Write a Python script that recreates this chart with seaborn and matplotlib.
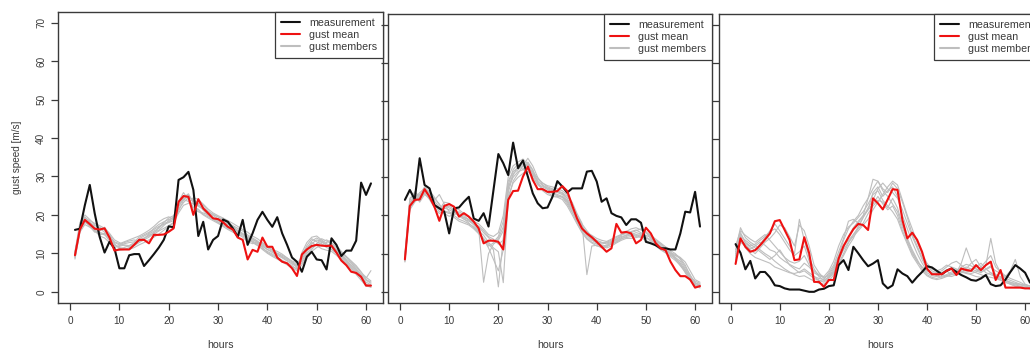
import numpy as np
import pandas as pd
import matplotlib
matplotlib.use("Agg")
import matplotlib.pyplot as plt
from matplotlib.lines import Line2D
import seaborn as sns

# ---------------------------------------------------------------- data
hours = list(range(1, 62))
x_ticks = [0, 10, 20, 30, 40, 50, 60]
y_ticks = [0, 10, 20, 30, 40, 50, 60, 70]
legend_labels = ["measurement", "gust mean", "gust members"]

# station 1
obs_1 = [16.1, 16.4, 22.5, 27.8, 20.4, 14.3, 10.2, 13.0, 11.3, 6.1,
         6.1, 9.5, 9.8, 9.8, 6.7, 8.2, 9.8, 11.5, 13.5, 17.0,
         16.8, 29.1, 29.8, 31.2, 26.5, 14.5, 18.2, 11.0, 13.5, 14.5,
         18.8, 18.2, 16.5, 14.3, 18.7, 12.2, 15.2, 18.7, 20.8, 18.7,
         16.9, 19.4, 15.2, 12.2, 8.9, 7.8, 5.2, 9.1, 10.4, 8.4,
         8.2, 5.8, 13.9, 12.2, 9.3, 10.7, 10.7, 13.3, 28.4, 25.2, 28.2]
mean_1 = [9.5, 16.2, 18.7, 17.6, 16.4, 16.2, 16.5, 14.1, 10.7, 11.0,
          11.0, 11.0, 12.2, 13.5, 13.5, 12.6, 14.8, 14.8, 14.9, 15.6,
          16.5, 23.4, 24.9, 24.7, 20.0, 24.1, 21.7, 20.4, 19.1, 18.9,
          18.1, 16.9, 16.2, 14.1, 13.5, 8.4, 10.9, 10.4, 14.1, 11.7,
          11.7, 8.9, 7.8, 7.4, 6.1, 4.1, 9.7, 11.0, 11.9, 12.2,
          12.0, 11.9, 12.0, 10.2, 8.1, 6.9, 5.2, 4.9, 3.9, 1.6, 1.6]
members_1 = [
    [10.0, 17.5, 19.5, 18.2, 16.8, 15.5, 15.0, 13.2, 11.5, 12.0,
     12.5, 12.8, 13.0, 14.2, 14.8, 15.5, 16.2, 17.0, 17.5, 18.0,
     18.5, 22.0, 24.5, 25.5, 23.0, 22.5, 21.8, 20.5, 19.8, 19.0,
     18.2, 17.5, 16.8, 15.5, 15.0, 14.2, 13.5, 13.0, 12.2, 11.5,
     10.8, 10.0, 9.2, 8.5, 7.8, 7.0, 8.5, 10.5, 12.5, 13.5,
     13.0, 12.2, 11.5, 10.5, 9.2, 8.0, 6.8, 5.5, 4.2, 3.0, 2.2],
    [9.0, 16.0, 18.5, 17.0, 15.5, 15.8, 16.8, 15.0, 12.5, 11.2,
     11.5, 12.0, 12.8, 13.5, 14.0, 14.5, 15.5, 16.0, 17.2, 18.5,
     19.5, 23.5, 25.8, 24.0, 22.0, 21.5, 20.2, 19.5, 18.8, 18.0,
     17.5, 16.5, 15.8, 15.0, 14.2, 13.0, 12.5, 12.8, 11.5, 10.2,
     9.5, 8.8, 8.0, 7.2, 6.5, 6.0, 9.0, 11.5, 12.8, 12.0,
     11.2, 10.8, 10.5, 9.5, 8.2, 7.5, 6.2, 4.8, 3.5, 2.0, 1.5],
    [10.5, 18.0, 20.0, 18.8, 17.5, 16.5, 15.5, 14.0, 12.0, 11.8,
     12.2, 12.0, 12.5, 13.2, 13.8, 14.8, 15.0, 15.8, 16.5, 17.2,
     18.0, 21.5, 23.2, 24.5, 24.0, 23.0, 22.5, 21.0, 20.0, 19.5,
     18.8, 18.0, 17.2, 16.5, 15.8, 14.8, 14.0, 13.2, 12.0, 11.0,
     10.2, 9.5, 8.8, 8.0, 7.2, 6.5, 7.5, 9.5, 11.0, 12.5,
     13.8, 13.2, 12.5, 11.0, 9.8, 8.5, 7.5, 6.0, 4.5, 3.5, 5.5],
    [8.5, 15.5, 17.5, 16.8, 16.0, 14.5, 14.0, 12.8, 11.0, 10.8,
     11.0, 11.5, 12.0, 12.8, 13.5, 14.2, 15.2, 16.8, 18.0, 19.2,
     19.8, 22.5, 24.0, 23.5, 22.8, 21.0, 20.0, 19.2, 18.5, 17.8,
     17.0, 16.2, 15.5, 14.8, 14.5, 13.8, 12.8, 12.0, 11.2, 10.5,
     9.8, 9.0, 8.2, 7.5, 6.8, 5.8, 10.2, 12.8, 14.2, 14.5,
     13.5, 12.5, 11.8, 10.8, 9.5, 8.2, 7.0, 5.8, 4.0, 2.5, 1.8],
    [9.8, 17.0, 19.0, 18.0, 17.2, 16.8, 16.0, 14.5, 13.0, 12.5,
     13.0, 13.5, 14.0, 14.5, 15.2, 16.0, 17.0, 18.2, 19.0, 19.5,
     18.8, 21.0, 23.8, 25.2, 23.5, 22.2, 21.5, 20.8, 20.2, 19.5,
     18.5, 17.8, 17.0, 16.0, 15.2, 14.0, 13.2, 12.5, 11.8, 11.0,
     10.5, 9.8, 9.0, 8.2, 7.5, 6.8, 8.0, 10.0, 11.5, 12.2,
     12.8, 13.5, 12.8, 11.5, 10.2, 9.0, 7.8, 6.5, 5.0, 3.8, 2.8],
    [9.2, 16.5, 18.0, 17.5, 16.2, 15.2, 14.8, 13.8, 12.2, 11.5,
     11.2, 11.0, 11.5, 12.2, 12.8, 13.5, 14.2, 15.0, 16.0, 17.0,
     18.0, 20.5, 22.5, 23.0, 24.5, 24.0, 22.8, 21.5, 20.5, 19.8,
     19.2, 18.5, 17.8, 17.0, 16.2, 15.5, 14.5, 13.8, 12.8, 11.8,
     10.8, 10.0, 9.5, 8.8, 8.0, 7.5, 8.8, 11.0, 13.2, 14.0,
     13.2, 12.0, 11.0, 10.0, 9.0, 7.8, 6.5, 5.2, 3.8, 1.8, 1.2],
    [10.2, 16.8, 19.2, 18.5, 17.8, 17.2, 16.5, 15.2, 13.5, 12.8,
     12.0, 11.8, 12.2, 13.8, 14.5, 15.2, 16.5, 17.5, 18.2, 18.8,
     19.2, 22.8, 25.0, 24.2, 21.5, 20.8, 20.5, 20.0, 19.2, 18.5,
     17.8, 17.0, 16.5, 15.8, 15.0, 14.5, 13.8, 12.8, 12.5, 11.8,
     11.0, 10.5, 9.8, 8.8, 7.8, 6.2, 9.5, 12.0, 13.8, 13.0,
     12.5, 11.5, 11.0, 10.2, 8.8, 7.2, 6.0, 4.5, 3.0, 1.5, 1.2],
    [8.8, 15.8, 18.2, 17.2, 15.8, 14.8, 15.2, 14.2, 12.8, 12.2,
     12.8, 13.2, 13.5, 13.0, 13.8, 15.0, 15.8, 16.5, 17.8, 18.2,
     19.0, 22.2, 24.2, 24.8, 23.8, 22.8, 21.2, 19.8, 19.0, 18.2,
     17.2, 16.8, 16.0, 15.2, 14.8, 13.5, 13.0, 12.2, 11.0, 10.0,
     9.2, 8.5, 7.8, 7.0, 6.2, 5.5, 7.0, 9.0, 10.5, 11.5,
     12.2, 12.8, 13.5, 12.0, 10.5, 9.2, 8.0, 6.8, 5.2, 3.2, 2.5],
]

# station 2
obs_2 = [24.1, 26.7, 24.2, 35.0, 28.0, 27.1, 22.7, 21.9, 21.0, 15.3,
         21.9, 22.1, 23.6, 24.9, 19.2, 18.6, 20.6, 17.1, 26.6, 36.1,
         33.7, 30.6, 39.1, 32.4, 34.4, 30.2, 25.8, 23.2, 21.9, 22.1,
         24.9, 29.0, 27.6, 26.0, 27.1, 27.1, 27.1, 31.5, 31.7, 28.9,
         23.6, 24.5, 20.6, 19.9, 19.5, 17.5, 19.0, 19.0, 18.1, 13.1,
         12.7, 12.2, 11.4, 11.4, 11.1, 11.1, 15.3, 21.0, 20.8, 26.2, 17.1]
mean_2 = [8.5, 22.5, 24.1, 24.2, 26.9, 24.9, 22.3, 18.6, 22.5, 23.0,
          22.3, 19.7, 20.6, 19.7, 18.4, 16.6, 12.7, 13.4, 13.4, 13.1,
          11.1, 24.1, 26.4, 26.5, 30.2, 32.8, 29.3, 26.9, 26.9, 26.2,
          26.2, 26.4, 27.7, 26.4, 22.7, 19.2, 16.6, 15.3, 14.3, 13.1,
          11.8, 10.5, 11.4, 17.8, 15.5, 15.7, 15.3, 12.7, 13.6, 16.8,
          15.3, 12.7, 11.4, 10.9, 7.9, 5.7, 4.1, 4.1, 3.2, 1.1, 1.5]
members_2 = [
    [9.0, 23.5, 25.0, 25.5, 27.5, 26.0, 23.0, 21.0, 22.0, 21.5,
     20.8, 20.0, 19.5, 19.0, 18.2, 17.0, 15.5, 14.2, 13.0, 14.5,
     18.5, 29.0, 31.5, 32.5, 33.5, 33.0, 31.0, 29.0, 27.8, 27.0,
     26.5, 26.0, 25.5, 24.0, 21.5, 19.0, 17.0, 15.5, 14.8, 14.0,
     13.5, 13.2, 13.8, 14.5, 15.0, 15.5, 15.8, 16.2, 15.5, 14.5,
     13.2, 12.0, 11.0, 10.2, 9.5, 8.8, 7.5, 5.5, 3.5, 2.2, 1.8],
    [8.0, 22.0, 24.8, 24.0, 26.0, 25.2, 24.5, 23.0, 21.0, 20.5,
     21.0, 19.8, 19.0, 18.5, 17.8, 16.5, 2.5, 10.0, 12.5, 13.5,
     16.0, 27.5, 30.0, 31.5, 32.0, 34.0, 32.0, 28.5, 27.0, 26.0,
     25.2, 25.0, 24.8, 23.0, 20.8, 18.5, 16.2, 14.8, 13.5, 12.8,
     12.5, 12.8, 13.2, 13.8, 14.5, 14.8, 15.2, 14.8, 14.2, 13.5,
     12.8, 12.2, 11.5, 10.8, 10.0, 9.5, 8.8, 7.0, 4.2, 2.5, 1.5],
    [9.5, 24.0, 26.2, 25.0, 25.8, 24.2, 22.0, 20.5, 21.8, 22.5,
     21.5, 20.5, 19.2, 18.0, 16.8, 15.5, 14.0, 12.5, 11.0, 1.3,
     14.0, 26.0, 30.5, 33.0, 34.5, 32.5, 30.0, 28.2, 27.5, 26.8,
     26.0, 25.5, 25.0, 23.5, 21.0, 18.0, 15.8, 14.2, 13.0, 12.5,
     12.0, 12.2, 12.8, 13.5, 14.2, 14.8, 15.5, 16.0, 16.5, 15.8,
     14.5, 13.5, 12.5, 11.5, 10.5, 9.0, 7.2, 5.0, 3.0, 1.8, 1.2],
    [8.5, 21.5, 23.5, 24.8, 26.5, 25.5, 23.8, 22.2, 20.5, 19.8,
     20.2, 21.0, 20.0, 18.8, 17.5, 16.0, 14.8, 13.0, 11.5, 10.5,
     2.4, 24.0, 29.0, 31.0, 33.0, 35.0, 33.0, 30.0, 28.0, 27.2,
     26.8, 26.2, 25.8, 24.5, 22.0, 19.5, 17.5, 15.0, 14.0, 13.2,
     12.8, 13.0, 13.5, 14.2, 15.0, 15.2, 14.8, 14.5, 15.0, 15.5,
     14.0, 12.8, 11.8, 11.0, 10.2, 9.8, 9.0, 7.8, 5.5, 3.2, 2.5],
    [9.2, 23.0, 24.5, 26.0, 27.0, 25.8, 24.0, 25.5, 23.0, 21.0,
     20.0, 19.0, 18.5, 17.8, 17.0, 15.8, 13.5, 12.0, 12.8, 14.0,
     17.0, 28.0, 32.0, 33.5, 32.0, 31.5, 30.5, 29.5, 28.5, 27.5,
     27.0, 26.5, 26.0, 25.0, 23.5, 20.5, 18.0, 4.5, 12.0, 12.2,
     11.5, 11.8, 12.5, 13.0, 13.8, 14.5, 15.0, 15.5, 15.2, 14.8,
     14.2, 13.0, 12.0, 10.8, 9.8, 9.0, 8.0, 6.0, 4.0, 2.8, 2.2],
    [7.8, 22.8, 25.5, 23.5, 25.5, 24.5, 23.2, 21.8, 22.8, 22.0,
     21.2, 20.2, 19.5, 18.8, 18.0, 17.2, 16.0, 14.5, 13.8, 12.5,
     13.5, 25.0, 28.5, 30.0, 31.0, 32.2, 31.5, 29.8, 28.5, 27.8,
     27.5, 27.0, 26.5, 25.5, 22.5, 20.0, 17.8, 16.0, 14.5, 13.5,
     13.0, 12.5, 13.0, 13.8, 14.8, 15.8, 16.5, 16.8, 16.2, 15.5,
     14.8, 13.8, 12.8, 11.8, 10.8, 10.0, 8.5, 6.5, 4.5, 2.0, 1.0],
    [8.8, 21.8, 24.0, 25.2, 26.2, 26.5, 24.8, 22.8, 21.2, 20.8,
     19.5, 18.5, 18.0, 17.5, 16.5, 15.2, 13.8, 11.5, 8.5, 5.5,
     11.0, 27.0, 31.0, 32.0, 33.0, 33.5, 31.8, 28.8, 26.5, 25.5,
     25.0, 24.8, 24.2, 22.5, 20.2, 17.8, 15.5, 13.8, 12.8, 12.0,
     11.8, 12.0, 12.5, 13.2, 14.0, 14.2, 14.5, 15.0, 14.8, 14.2,
     13.5, 12.5, 11.2, 10.5, 9.2, 8.2, 7.0, 5.8, 3.8, 2.2, 2.0],
    [9.8, 24.5, 25.8, 24.5, 27.2, 25.0, 22.8, 21.5, 23.5, 23.2,
     22.0, 21.5, 20.5, 19.5, 18.5, 17.8, 16.5, 15.0, 14.5, 15.5,
     20.0, 30.0, 33.0, 34.0, 34.8, 33.5, 30.8, 28.0, 27.0, 26.2,
     25.8, 25.2, 24.8, 23.8, 21.8, 19.2, 16.8, 15.2, 13.8, 12.8,
     12.2, 11.5, 12.0, 12.8, 13.5, 14.0, 14.0, 14.2, 14.5, 14.0,
     13.8, 13.2, 12.5, 11.2, 10.0, 8.5, 6.8, 5.2, 3.2, 1.5, 1.8],
]

# station 3
obs_3 = [12.5, 10.2, 5.9, 8.1, 3.5, 5.2, 5.2, 3.8, 1.7, 1.5,
         0.9, 0.6, 0.6, 0.6, 0.3, 0.0, 0.0, 0.6, 0.8, 1.5,
         1.7, 7.0, 8.3, 5.7, 11.8, 10.1, 8.3, 6.7, 7.4, 8.3,
         2.2, 0.9, 1.7, 5.9, 4.8, 4.1, 2.4, 3.9, 5.2, 6.7,
         6.4, 5.5, 4.6, 5.5, 6.1, 5.2, 4.4, 3.8, 3.1, 2.9,
         3.5, 4.4, 2.0, 1.5, 1.7, 3.2, 5.2, 7.0, 6.1, 5.0, 2.4]
mean_3 = [7.3, 14.0, 11.8, 10.5, 10.9, 12.2, 13.7, 15.3, 18.5, 18.8,
          16.2, 13.6, 8.3, 8.5, 14.3, 10.1, 2.6, 2.6, 1.3, 3.1,
          3.1, 8.7, 12.0, 14.3, 16.4, 17.8, 17.5, 16.2, 24.5, 23.2,
          21.6, 24.2, 26.9, 26.7, 18.8, 14.0, 15.5, 13.6, 10.5, 6.1,
          4.6, 4.6, 4.6, 5.5, 6.1, 4.4, 6.1, 5.7, 5.5, 7.0,
          5.7, 7.0, 7.9, 3.1, 5.7, 1.1, 1.1, 1.1, 1.1, 0.9, 0.9]
members_3 = [
    [9.0, 15.5, 13.0, 12.0, 12.5, 13.5, 14.5, 15.8, 16.5, 15.0,
     13.0, 11.0, 9.5, 10.5, 12.0, 8.0, 4.0, 3.0, 2.5, 3.5,
     5.0, 8.0, 11.5, 14.5, 16.8, 18.5, 20.0, 21.5, 26.0, 27.5,
     25.0, 26.5, 27.5, 25.0, 20.0, 16.5, 13.0, 10.0, 7.5, 5.5,
     4.8, 4.5, 5.0, 5.8, 6.2, 5.5, 6.0, 6.5, 6.0, 5.5,
     5.0, 6.0, 6.8, 4.5, 4.0, 3.0, 2.2, 1.8, 1.5, 1.2, 1.0],
    [11.0, 16.8, 14.2, 13.0, 12.2, 11.0, 10.0, 9.2, 8.0, 7.0,
     6.0, 5.2, 4.5, 4.0, 4.2, 3.5, 2.8, 2.2, 2.0, 2.8,
     4.5, 7.5, 10.0, 12.8, 15.0, 16.5, 18.0, 20.5, 22.5, 24.0,
     23.5, 22.0, 24.5, 22.0, 17.5, 14.0, 11.0, 8.5, 6.0, 4.5,
     3.8, 3.5, 4.0, 4.5, 5.2, 5.8, 5.2, 4.8, 4.5, 4.0,
     3.8, 4.5, 5.0, 3.8, 3.2, 2.5, 2.0, 1.5, 1.2, 1.0, 0.8],
    [8.2, 13.0, 12.0, 11.0, 10.0, 11.5, 13.0, 14.0, 15.5, 17.5,
     16.8, 14.5, 12.0, 17.5, 16.0, 12.0, 7.0, 5.0, 3.5, 4.5,
     6.5, 9.5, 13.5, 16.5, 18.5, 20.0, 22.5, 24.5, 29.5, 29.0,
     26.5, 25.0, 23.0, 21.0, 17.0, 13.5, 10.5, 8.0, 6.5, 5.0,
     4.2, 4.0, 4.8, 5.5, 4.5, 5.0, 7.5, 11.5, 8.0, 6.0,
     5.5, 7.0, 14.0, 7.5, 5.0, 3.5, 3.0, 2.5, 2.0, 1.5, 1.2],
    [10.5, 14.5, 13.5, 12.5, 11.5, 10.5, 9.5, 8.5, 9.5, 11.0,
     9.0, 7.0, 6.0, 5.0, 5.5, 4.5, 3.5, 3.0, 2.8, 4.0,
     6.0, 9.0, 12.0, 13.5, 15.0, 17.0, 19.5, 22.0, 24.0, 27.0,
     28.5, 27.0, 26.0, 24.5, 21.5, 18.0, 14.5, 11.5, 8.5, 6.0,
     5.0, 4.2, 3.8, 4.2, 4.8, 5.5, 6.5, 7.2, 6.8, 6.0,
     5.2, 5.8, 6.5, 5.5, 4.8, 4.0, 5.5, 8.5, 4.0, 2.0, 1.5],
    [12.0, 16.0, 14.8, 13.8, 13.0, 14.0, 15.0, 13.5, 12.0, 10.5,
     9.0, 8.0, 7.5, 8.0, 9.5, 7.0, 5.5, 4.5, 4.0, 5.5,
     8.0, 12.0, 15.0, 17.0, 18.0, 19.5, 21.0, 23.0, 25.5, 26.5,
     24.0, 22.5, 21.0, 19.0, 15.5, 12.5, 9.5, 7.5, 5.5, 4.2,
     3.5, 3.2, 3.5, 4.0, 4.5, 4.8, 5.0, 5.2, 5.5, 6.5,
     7.5, 6.0, 5.0, 4.2, 3.8, 3.0, 2.5, 2.0, 1.8, 1.5, 1.0],
    [9.5, 14.0, 11.5, 10.0, 9.0, 8.5, 8.0, 7.5, 6.5, 6.0,
     5.5, 5.0, 4.8, 5.2, 6.0, 5.0, 4.0, 3.5, 3.2, 5.0,
     7.0, 10.5, 14.0, 18.5, 19.0, 18.0, 20.0, 24.5, 27.0, 29.0,
     27.0, 26.0, 28.5, 27.0, 23.5, 19.5, 15.0, 12.0, 9.0, 7.0,
     5.5, 5.0, 5.5, 6.5, 7.5, 8.0, 7.0, 6.0, 5.5, 5.0,
     4.5, 4.0, 3.8, 3.5, 3.0, 2.5, 2.0, 1.5, 1.2, 1.0, 0.8],
    [10.0, 15.2, 12.8, 11.8, 10.8, 12.5, 14.2, 16.0, 17.8, 16.0,
     14.0, 12.0, 10.0, 19.0, 13.5, 9.0, 6.0, 4.0, 3.0, 3.8,
     5.5, 8.5, 11.0, 13.0, 14.5, 16.0, 17.5, 19.0, 21.5, 23.5,
     25.5, 27.5, 29.0, 28.0, 24.0, 20.0, 16.5, 13.0, 10.0, 7.5,
     6.0, 5.5, 6.0, 7.0, 6.5, 6.0, 5.5, 5.0, 4.8, 5.2,
     6.5, 8.0, 9.5, 6.5, 5.2, 4.2, 3.5, 3.0, 2.5, 1.8, 1.5],
    [8.5, 13.5, 12.5, 11.2, 12.0, 13.0, 12.2, 11.0, 10.5, 9.0,
     8.0, 7.2, 6.5, 6.0, 7.5, 6.5, 5.0, 4.2, 3.8, 4.2,
     5.0, 7.0, 9.5, 12.0, 14.0, 17.0, 19.5, 21.5, 23.0, 25.0,
     23.0, 21.5, 22.5, 20.0, 16.0, 13.0, 10.0, 8.0, 6.5, 5.5,
     5.0, 4.8, 4.5, 4.2, 4.0, 4.5, 5.2, 6.0, 7.5, 8.5,
     6.5, 5.0, 4.5, 4.0, 3.5, 3.0, 2.5, 2.2, 2.0, 1.8, 1.5],
]

stations = [
    (obs_1, mean_1, members_1),
    (obs_2, mean_2, members_2),
    (obs_3, mean_3, members_3),
]

# ---------------------------------------------------------------- style
sns.set_style("ticks")
TEXT = "#3a3a3a"
EDGE = "#3a3a3a"
plt.rcParams["font.family"] = ["Liberation Sans", "DejaVu Sans"]
plt.rcParams.update({
    "axes.edgecolor": EDGE,
    "axes.linewidth": 1.0,
    "xtick.color": EDGE,
    "ytick.color": EDGE,
    "xtick.labelcolor": TEXT,
    "ytick.labelcolor": TEXT,
    "axes.labelcolor": TEXT,
})

C_OBS = "#111111"
C_MEAN = "#ee1111"
C_MEM = "#bebebe"

W, H = 1030, 349
fig = plt.figure(figsize=(W / 100, H / 100), dpi=100)

# panel frames in pixels: (left, right, top, bottom)
frames = [
    (58.0, 383.0, 12.0, 302.5),
    (388.0, 712.0, 14.0, 302.5),
    (718.7, 1042.0, 14.0, 302.5),
]

for i, ((obs, mean, members), (l, r, t, b)) in enumerate(zip(stations, frames)):
    ax = fig.add_axes([l / W, (H - b) / H, (r - l) / W, (b - t) / H])

    mem_df = pd.DataFrame({
        "hour": hours * len(members),
        "gust": [v for m in members for v in m],
        "member": [k for k, m in enumerate(members) for _ in m],
    })
    sns.lineplot(data=mem_df, x="hour", y="gust", units="member",
                 estimator=None, color=C_MEM, linewidth=0.8, ax=ax,
                 legend=False)
    sns.lineplot(x=hours, y=obs, color=C_OBS, linewidth=1.5, ax=ax,
                 legend=False)
    sns.lineplot(x=hours, y=mean, color=C_MEAN, linewidth=1.5, ax=ax,
                 legend=False)

    ax.set_xlim(-2.44, 63.44)
    ax.set_ylim(-2.8, 72.8)
    ax.set_xticks(x_ticks)
    ax.set_yticks(y_ticks)
    ax.tick_params(axis="both", length=5, width=0.9, labelsize=7.2)
    ax.tick_params(axis="x", pad=4.5)
    ax.tick_params(axis="y", pad=3.5)
    for spine in ax.spines.values():
        spine.set_visible(True)
        spine.set_color(EDGE)

    ax.set_xlabel("hours", fontsize=7.6)
    ax.xaxis.set_label_coords(0.5, -(339.5 - b) / (b - t) + 0.0)
    if i == 0:
        for lab in ax.get_yticklabels():
            lab.set_rotation(90)
            lab.set_va("center")
        ax.set_ylabel("gust speed [m/s]", fontsize=7.2)
        ax.yaxis.set_label_coords(-(l - 22) / (r - l), 0.5)
    else:
        ax.tick_params(axis="y", labelleft=False)
        ax.set_ylabel("")

    handles = [
        Line2D([], [], color=C_OBS, lw=1.5),
        Line2D([], [], color=C_MEAN, lw=1.5),
        Line2D([], [], color=C_MEM, lw=1.5),
    ]
    leg = ax.legend(handles, legend_labels, loc="upper right",
                    borderaxespad=0, fancybox=False, framealpha=1,
                    edgecolor=EDGE, fontsize=7.7, handlelength=1.8,
                    handletextpad=0.8, borderpad=0.55, labelspacing=0.18)
    leg.get_frame().set_linewidth(0.9)
    for txt in leg.get_texts():
        txt.set_color(TEXT)

fig.savefig("out.png", dpi=100)
